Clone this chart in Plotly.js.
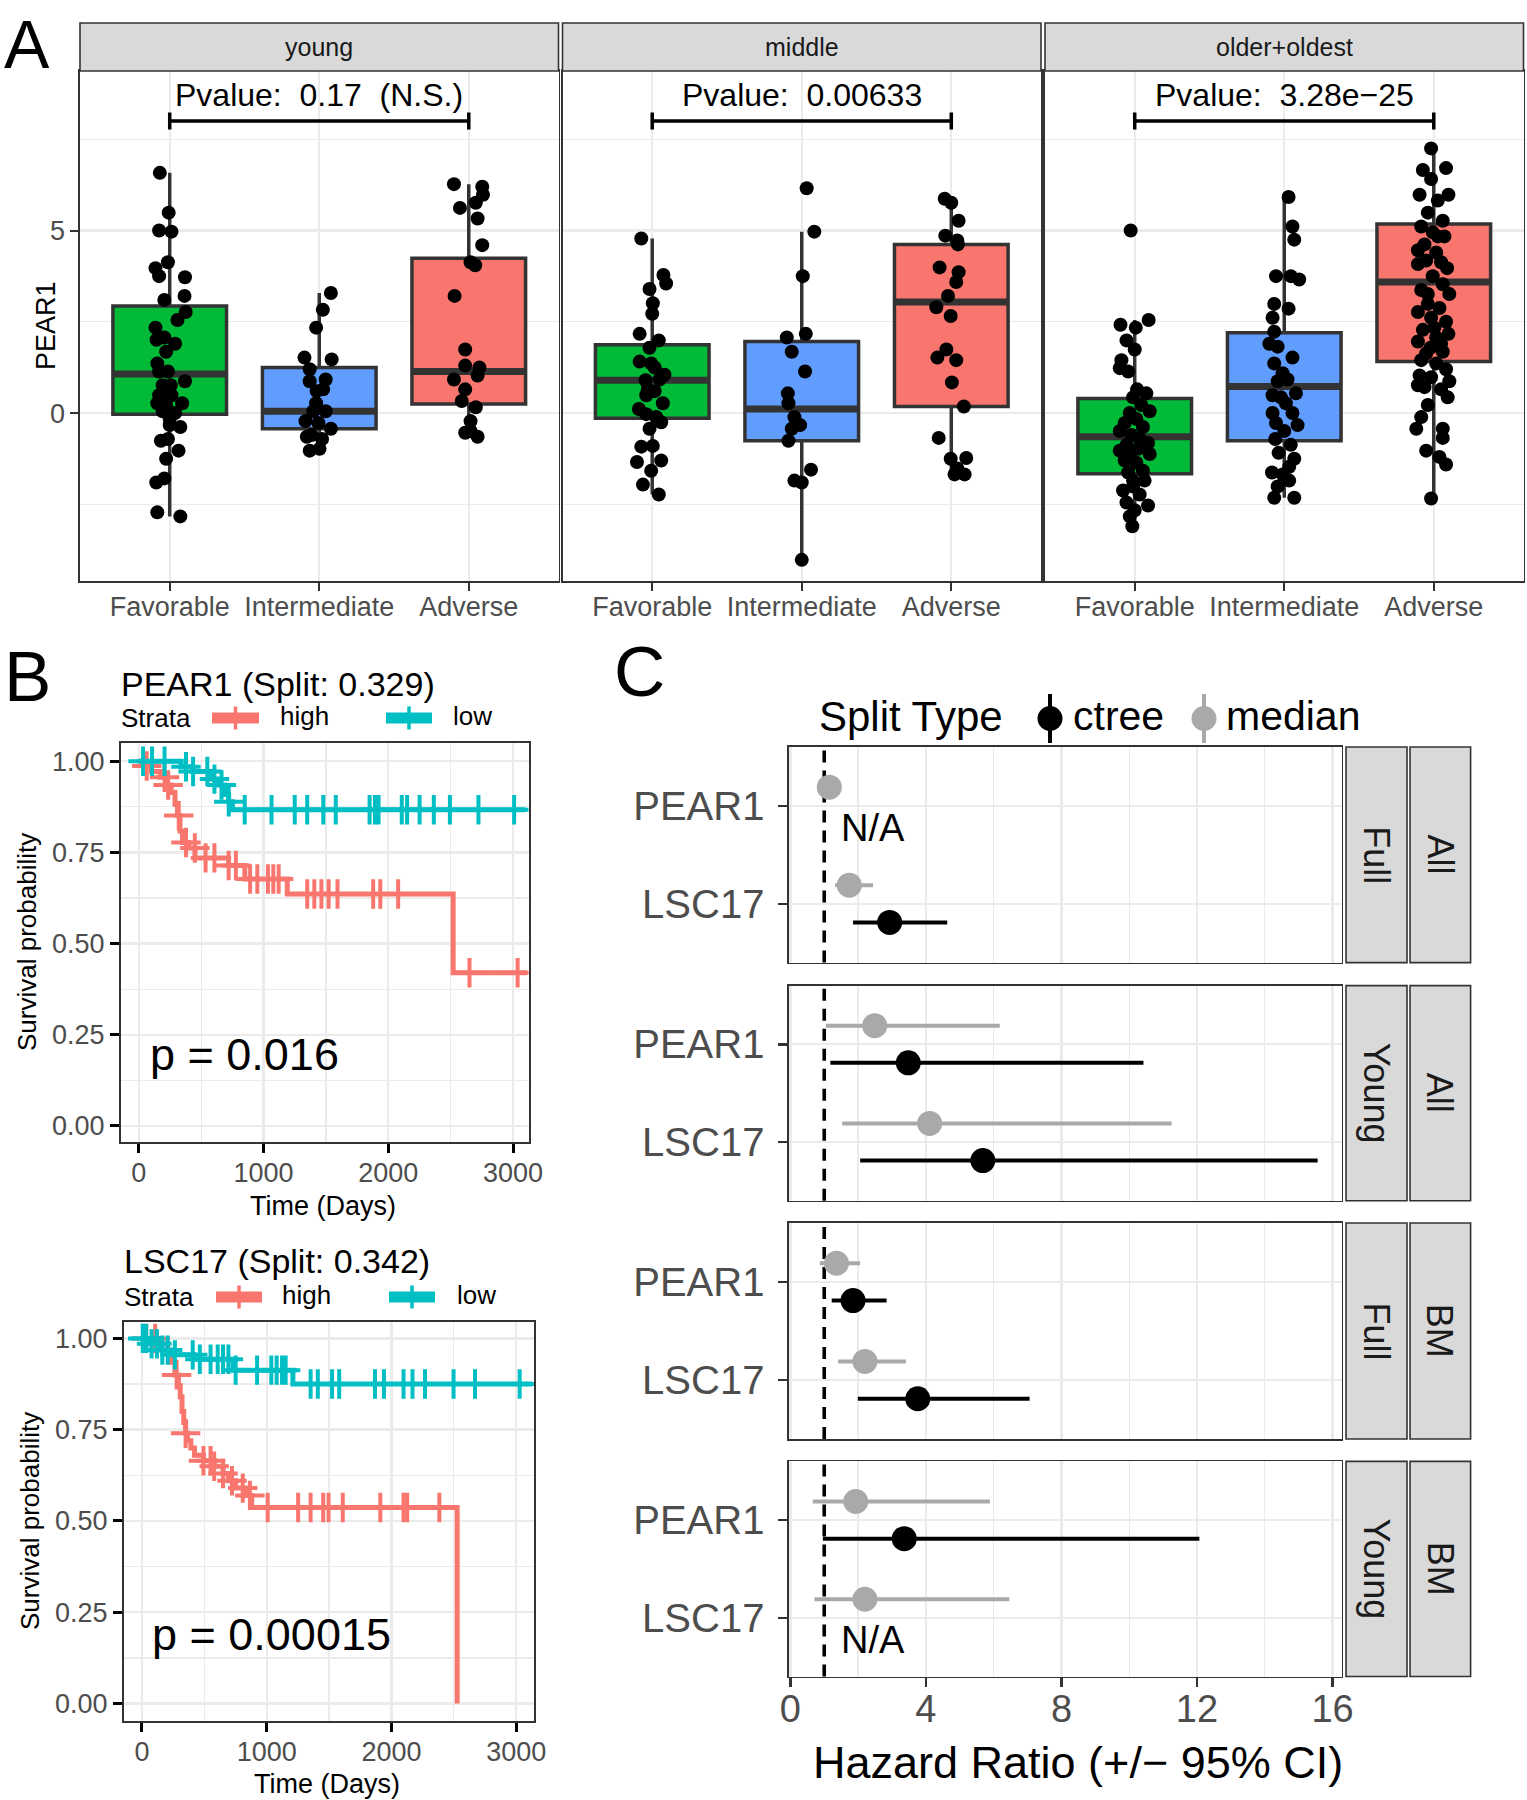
<!DOCTYPE html>
<html>
<head>
<meta charset="utf-8">
<script src="https://cdn.plot.ly/plotly-3.0.1.min.js"></script>
<style>
  html, body { margin: 0; padding: 0; background: #fff; }
  #chart { width: 1527px; height: 1800px; }
</style>
</head>
<body>
<div id="chart"></div>
<script>
// ---- Panel A: PEAR1 expression by risk group, faceted by age ----
const riskGroups = ['Favorable', 'Intermediate', 'Adverse'];
const ageFacets = ['young', 'middle', 'older+oldest'];
const facetPvalues = ['Pvalue:\u00a0 0.17\u00a0 (N.S.)', 'Pvalue:\u00a0 0.00633', 'Pvalue:\u00a0 3.28e\u221225'];

// box stats per facet (rows) and risk group (columns)
const boxQ1 = [[-0.03, -0.43, 0.25], [-0.14, -0.76, 0.18], [-1.66, -0.76, 1.41]];
const boxMed = [[1.07, 0.05, 1.14], [0.90, 0.11, 3.04], [-0.65, 0.73, 3.59]];
const boxQ3 = [[2.93, 1.25, 4.24], [1.87, 1.96, 4.62], [0.40, 2.20, 5.18]];
const boxLow = [[-2.83, -1.00, -0.65], [-2.23, -4.02, -1.68], [-3.10, -2.32, -2.34]];
const boxHigh = [[6.58, 3.29, 6.27], [4.78, 4.97, 5.87], [2.55, 5.92, 7.25]];

// jittered samples: [x jitter, PEAR1]
const youngFav = [[-0.066,6.58],[-0.007,5.49],[-0.071,5.0],[0.012,4.97],[-0.095,3.97],[-0.012,4.13],[-0.071,3.75],[0.102,3.72],[-0.036,3.10],[0.099,3.21],[0.107,2.77],[0.052,2.55],[-0.095,2.34],[-0.088,2.01],[-0.036,2.07],[0.036,1.90],[-0.024,1.68],[-0.083,1.36],[-0.071,1.14],[0.007,0.76],[0.102,0.87],[-0.047,0.76],[-0.083,0.27],[-0.024,0.22],[0.083,0.27],[0.036,0.0],[-0.047,0.05],[0.071,-0.38],[0.0,-0.33],[-0.059,-0.76],[-0.012,-0.71],[0.059,-1.03],[-0.024,-1.25],[-0.036,-1.79],[-0.090,-1.90],[-0.083,-2.72],[0.071,-2.83],[0.0,-0.16],[-0.071,0.49],[0.012,0.49],[-0.012,1.14]];
const youngInt = [[0.078,3.29],[0.024,2.83],[-0.021,2.34],[-0.099,1.52],[0.083,1.47],[-0.064,1.20],[0.043,0.92],[-0.064,0.87],[-0.017,0.60],[0.026,0.65],[-0.040,0.05],[0.043,0.05],[-0.092,-0.22],[-0.005,-0.27],[0.078,-0.43],[-0.052,-0.60],[0.019,-0.71],[-0.083,-0.65],[-0.064,-1.03],[0.002,-0.98],[-0.021,0.27]];
const youngAdv = [[-0.099,6.27],[0.090,6.20],[0.095,5.98],[-0.059,5.62],[0.047,5.76],[0.059,5.33],[0.090,4.60],[0.012,4.13],[0.043,4.05],[-0.095,3.21],[-0.024,1.74],[-0.024,1.30],[0.071,1.25],[0.059,1.03],[-0.099,0.92],[-0.024,0.65],[-0.047,0.33],[0.047,0.16],[0.012,-0.22],[0.012,-0.49],[0.059,-0.65],[-0.024,-0.54]];
const middleFav = [[-0.073,4.78],[0.075,3.78],[0.093,3.55],[-0.018,3.40],[0.004,3.01],[0.0,2.72],[-0.084,2.17],[0.044,1.99],[-0.018,1.79],[-0.084,1.41],[-0.007,1.36],[0.082,1.05],[-0.044,0.90],[0.049,0.92],[-0.029,0.65],[0.016,0.60],[0.071,0.27],[-0.089,0.11],[-0.040,-0.03],[0.027,-0.11],[0.060,-0.25],[-0.018,-0.43],[-0.073,-0.92],[0.004,-0.90],[0.060,-1.30],[-0.102,-1.34],[-0.007,-1.58],[-0.062,-1.96],[0.044,-2.23],[-0.040,0.49],[0.016,1.25]];
const middleInt = [[0.033,6.16],[0.084,4.97],[0.007,3.75],[0.027,2.17],[-0.100,2.07],[-0.067,1.68],[0.022,1.14],[-0.093,0.54],[-0.089,0.27],[-0.049,-0.11],[-0.067,-0.43],[-0.011,-0.33],[-0.089,-0.76],[0.062,-1.55],[-0.049,-1.85],[0.0,-1.90],[0.0,-4.02]];
const middleAdv = [[-0.044,5.87],[0.0,5.76],[0.049,5.27],[-0.040,4.86],[0.040,4.73],[0.044,4.62],[-0.078,3.99],[0.049,3.86],[0.033,3.59],[-0.022,3.21],[-0.100,2.90],[-0.004,2.66],[-0.033,1.74],[-0.093,1.52],[0.033,1.45],[0.004,0.84],[0.084,0.18],[-0.084,-0.68],[-0.004,-1.25],[0.100,-1.23],[0.022,-1.68],[0.089,-1.68],[0.040,-1.52]];
const olderFav = [[-0.027,5.0],[-0.095,2.42],[0.093,2.55],[0.007,2.34],[-0.055,1.99],[0.0,1.74],[-0.089,1.45],[-0.100,1.23],[-0.044,1.14],[0.016,0.65],[0.078,0.54],[-0.011,0.43],[0.044,0.22],[0.100,0.05],[-0.033,0.0],[-0.067,-0.27],[-0.100,-0.49],[0.055,-0.38],[-0.022,-0.60],[0.089,-0.82],[-0.055,-0.87],[0.022,-0.98],[-0.033,-1.14],[0.100,-1.12],[-0.067,-1.30],[0.011,-1.36],[0.055,-1.58],[-0.044,-1.63],[-0.011,-1.85],[0.066,-1.85],[-0.078,-2.12],[0.033,-2.23],[-0.055,-2.45],[0.089,-2.53],[0.0,-2.66],[-0.033,-2.83],[-0.016,-3.10],[0.011,-0.16],[0.033,-0.71],[-0.011,-2.01],[-0.100,-1.03]];
const olderInt = [[0.029,5.92],[0.055,5.11],[0.067,4.75],[-0.055,3.75],[0.044,3.75],[0.100,3.66],[-0.067,2.99],[0.029,2.86],[-0.078,2.61],[-0.067,2.23],[-0.100,1.90],[-0.044,1.82],[0.055,1.52],[-0.067,1.36],[-0.011,1.09],[0.022,0.92],[-0.044,0.87],[0.078,0.54],[-0.022,0.43],[-0.078,0.0],[0.055,0.0],[-0.055,-0.27],[0.089,-0.33],[0.0,-0.49],[-0.060,-0.71],[0.044,-0.87],[-0.038,-1.09],[0.067,-1.25],[-0.082,-1.63],[-0.011,-1.68],[0.033,-1.85],[-0.044,-2.01],[-0.067,-2.32],[0.067,-2.32],[0.011,0.27],[-0.078,0.49],[0.033,-1.47]];
const olderAdv = [[-0.018,7.25],[-0.073,6.66],[0.082,6.71],[-0.018,6.41],[-0.095,5.98],[0.098,5.98],[0.027,5.82],[-0.040,5.49],[0.060,5.27],[-0.084,5.11],[-0.007,4.95],[0.071,4.84],[-0.106,4.46],[0.016,4.40],[-0.051,4.18],[0.089,3.97],[-0.106,4.08],[-0.007,3.75],[0.060,3.53],[-0.084,3.37],[0.104,3.26],[-0.040,2.99],[0.038,2.88],[-0.106,2.77],[-0.018,2.61],[0.082,2.50],[-0.073,2.28],[0.098,2.17],[0.016,2.07],[-0.106,1.96],[-0.022,1.79],[0.060,1.68],[-0.084,1.45],[0.016,1.36],[0.082,1.20],[-0.095,1.03],[-0.018,0.98],[0.104,0.87],[-0.062,0.71],[0.049,0.65],[-0.106,0.76],[0.093,0.43],[-0.040,0.22],[-0.084,-0.11],[-0.117,-0.43],[0.060,-0.43],[0.060,-0.68],[-0.051,-1.03],[0.038,-1.20],[0.082,-1.41],[-0.018,-2.34],[0.027,4.84],[-0.062,4.62],[0.049,4.13],[-0.040,3.26],[0.004,2.34],[0.049,1.90],[-0.051,1.63]];

// ---- Panel B: Kaplan-Meier curves (time in days, survival probability) ----
const pear1HighTime = [0, 40, 100, 170, 220, 260, 290, 310, 330, 350, 400, 450, 720, 850, 1190, 2520];
const pear1HighSurv = [1, 0.987, 0.972, 0.956, 0.935, 0.914, 0.882, 0.851, 0.809, 0.777, 0.762, 0.735, 0.714, 0.677, 0.636, 0.42];
const pear1HighEnd = 3110;
const pear1HighCensor = [63, 206, 235, 320, 378, 449, 535, 606, 720, 778, 892, 950, 1035, 1078, 1121, 1350, 1407, 1464, 1522, 1593, 1879, 1936, 2079, 2651, 3037];
const pear1LowTime = [0, 340, 430, 580, 640, 690, 720, 750];
const pear1LowSurv = [1, 0.985, 0.972, 0.951, 0.935, 0.909, 0.889, 0.867];
const pear1LowEnd = 3100;
const pear1LowCensor = [34, 106, 206, 378, 435, 549, 606, 663, 721, 849, 1064, 1250, 1350, 1479, 1579, 1850, 1893, 1922, 2108, 2151, 2251, 2365, 2494, 2723, 3009];

const lsc17HighTime = [0, 150, 206, 235, 264, 292, 307, 321, 335, 350, 364, 392, 421, 493, 579, 650, 693, 751, 837, 880, 2527];
const lsc17HighSurv = [1, 0.985, 0.96, 0.935, 0.90, 0.87, 0.84, 0.80, 0.77, 0.74, 0.72, 0.70, 0.68, 0.665, 0.65, 0.63, 0.61, 0.59, 0.57, 0.537, 0];
const lsc17HighEnd = 2527;
const lsc17HighCensor = [34, 106, 278, 350, 493, 550, 579, 650, 722, 808, 865, 1008, 1252, 1352, 1453, 1496, 1610, 1911, 2097, 2126, 2384];
const lsc17LowTime = [0, 60, 135, 230, 420, 730, 1210];
const lsc17LowSurv = [1, 0.985, 0.968, 0.955, 0.943, 0.913, 0.875];
const lsc17LowEnd = 3128;
const lsc17LowCensor = [6, 34, 77, 120, 163, 206, 264, 407, 464, 550, 607, 650, 693, 751, 923, 1037, 1080, 1123, 1152, 1352, 1410, 1524, 1581, 1868, 1940, 2097, 2169, 2269, 2498, 2670, 3028];

// ---- Panel C: hazard ratios (+/- 95% CI) ----
const forestStrata = ['All', 'All', 'BM', 'BM'];
const forestCohort = ['Full', 'Young', 'Full', 'Young'];
const forestGenes = ['PEAR1', 'LSC17'];
const medianHR = [[1.15, 1.74], [2.49, 4.11], [1.36, 2.20], [1.93, 2.20]];
const medianLo = [[0.90, 1.32], [1.05, 1.53], [0.87, 1.41], [0.66, 0.71]];
const medianHi = [[1.40, 2.44], [6.18, 11.25], [2.06, 3.41], [5.89, 6.46]];
const ctreeHR = [[null, 2.93], [3.48, 5.68], [1.85, 3.76], [3.36, null]];
const ctreeLo = [[null, 1.85], [1.18, 2.06], [1.22, 1.99], [0.96, null]];
const ctreeHi = [[null, 4.63], [10.42, 15.56], [2.84, 7.06], [12.07, null]];

// ---------------------------------------------------------------
const W = 1527, H = 1800;
const CF = 'Liberation Sans, Arial, Helvetica, sans-serif';
const px = x => x / W;
const py = y => 1 - y / H;
const domX = (a, b) => [px(a), px(b)];
const domY = (top, bottom) => [py(bottom), py(top)];

function axisStyle(o) {
  return Object.assign({
    showline: true, mirror: true, linecolor: '#333333', linewidth: 1.6,
    ticks: 'outside', ticklen: 8, tickwidth: 2, tickcolor: '#333333',
    showgrid: true, gridcolor: '#ebebeb', gridwidth: 2.4,
    zeroline: false, fixedrange: true,
    tickfont: { family: CF, size: 27, color: '#4d4d4d' }
  }, o);
}
function minorGrid(vals) {
  return { tickvals: vals, showgrid: true, gridcolor: '#ebebeb', gridwidth: 1.3, ticks: '' };
}
function label(x, y, text, size, extra) {
  return Object.assign({
    xref: 'paper', yref: 'paper', x: px(x), y: py(y), text: text, showarrow: false,
    xanchor: 'center', yanchor: 'middle', font: { family: CF, size: size, color: '#000' }
  }, extra || {});
}

const traces = [];
const annotations = [];
const shapes = [];
const layout = {
  width: W, height: H, margin: { l: 0, r: 0, t: 0, b: 0 },
  paper_bgcolor: '#fff', plot_bgcolor: '#fff', showlegend: false,
  boxmode: 'overlay', annotations, shapes
};

// ---- Panel A ----
const groupColors = ['#00BA38', '#619CFF', '#F8766D'];
const facetPoints = [[youngFav, youngInt, youngAdv], [middleFav, middleInt, middleAdv], [olderFav, olderInt, olderAdv]];
const panelAX = [[80, 558.5], [562.5, 1041], [1045, 1523.5]];
const stripA = [23, 71], plotABottom = 581;

ageFacets.forEach((facet, i) => {
  const n = i + 1;
  const xa = n === 1 ? 'x' : 'x' + n, ya = n === 1 ? 'y' : 'y' + n;
  layout[n === 1 ? 'xaxis' : 'xaxis' + n] = axisStyle({
    domain: domX(panelAX[i][0], panelAX[i][1]), anchor: ya,
    range: [0.4, 3.6], tickvals: [1, 2, 3], ticktext: riskGroups, ticklabelstandoff: -7
  });
  layout[n === 1 ? 'yaxis' : 'yaxis' + n] = axisStyle({
    domain: domY(stripA[1], plotABottom), anchor: xa,
    range: [-4.6, 9.37], tickvals: [0, 5], minor: minorGrid([-2.5, 2.5, 7.5]),
    showticklabels: i === 0, ticks: i === 0 ? 'outside' : ''
  });

  riskGroups.forEach((g, j) => {
    traces.push({
      type: 'box', x: [j + 1], q1: [boxQ1[i][j]], median: [boxMed[i][j]], q3: [boxQ3[i][j]],
      lowerfence: [boxLow[i][j]], upperfence: [boxHigh[i][j]], width: 0.76,
      fillcolor: groupColors[j], line: { color: '#333333', width: 3.5 }, whiskerwidth: 0,
      boxpoints: false, xaxis: xa, yaxis: ya, hoverinfo: 'skip'
    });
    traces.push({
      type: 'scatter', mode: 'lines', x: [j + 1 - 0.38, j + 1 + 0.38], y: [boxMed[i][j], boxMed[i][j]],
      line: { color: '#333333', width: 7 }, xaxis: xa, yaxis: ya, hoverinfo: 'skip'
    });
  });
  riskGroups.forEach((g, j) => {
    const pts = facetPoints[i][j];
    traces.push({
      type: 'scatter', mode: 'markers', x: pts.map(p => j + 1 + p[0]), y: pts.map(p => p[1]),
      marker: { color: '#000', size: 14 }, xaxis: xa, yaxis: ya, hoverinfo: 'skip'
    });
  });
  // comparison bracket Favorable vs Adverse
  traces.push({
    type: 'scatter', mode: 'lines', x: [1, 1, null, 1, 3, null, 3, 3], y: [7.77, 8.23, null, 8, 8, null, 7.77, 8.23],
    line: { color: '#000', width: 3.5 }, xaxis: xa, yaxis: ya, hoverinfo: 'skip'
  });
  annotations.push({
    xref: xa, yref: ya, x: 2, y: 8.7, text: facetPvalues[i], showarrow: false,
    font: { family: CF, size: 32, color: '#000' }
  });
  shapes.push({
    type: 'rect', xref: 'paper', yref: 'paper', x0: px(panelAX[i][0]), x1: px(panelAX[i][1]),
    y0: py(stripA[1]), y1: py(stripA[0]), fillcolor: '#d9d9d9', line: { color: '#333333', width: 1.6 }
  });
  annotations.push(label((panelAX[i][0] + panelAX[i][1]) / 2, 47, facet, 25, { font: { family: CF, size: 25, color: '#1a1a1a' } }));
});
annotations.push(label(46, 326, 'PEAR1', 27, { textangle: -90 }));
annotations.push(label(2, 44, 'A', 68, { xanchor: 'left' }));

// ---- Panel B ----
function survAt(times, surv, t) {
  let s = surv[0];
  times.forEach((tt, k) => { if (tt <= t) s = surv[k]; });
  return s;
}
const kmColors = { high: '#F8766D', low: '#00BFC4' };
const kmPanels = [
  { n: 4, x: [121, 528.6], y: [743, 1142], xr: [-143, 3125], yr: [-0.044, 1.05],
    title: 'PEAR1 (Split: 0.329)', p: 'p = 0.016', pt: [75, 0.195],
    curves: [['high', pear1HighTime, pear1HighSurv, pear1HighEnd, pear1HighCensor],
             ['low', pear1LowTime, pear1LowSurv, pear1LowEnd, pear1LowCensor]],
    head: { title: 684, legend: 718, strata: 121, keys: [[212, 259, 280], [386, 432, 453]] },
    ylab: [27, 942], xlab: [323, 1206] },
  { n: 5, x: [124, 534], y: [1321.6, 1720.7], xr: [-144, 3143], yr: [-0.047, 1.046],
    title: 'LSC17 (Split: 0.342)', p: 'p = 0.00015', pt: [64, 0.19],
    curves: [['high', lsc17HighTime, lsc17HighSurv, lsc17HighEnd, lsc17HighCensor],
             ['low', lsc17LowTime, lsc17LowSurv, lsc17LowEnd, lsc17LowCensor]],
    head: { title: 1261, legend: 1297, strata: 124, keys: [[216, 262, 282], [389, 435, 457]] },
    ylab: [30, 1521], xlab: [327, 1784] }
];
kmPanels.forEach(k => {
  const xa = 'x' + k.n, ya = 'y' + k.n;
  const kmAxis = { linecolor: '#333333', linewidth: 2, tickcolor: '#000', tickwidth: 3, ticklen: 9 };
  layout['xaxis' + k.n] = axisStyle(Object.assign({
    domain: domX(k.x[0], k.x[1]), anchor: ya, range: k.xr, ticklabelstandoff: -3,
    tickvals: [0, 1000, 2000, 3000], minor: minorGrid([500, 1500, 2500])
  }, kmAxis));
  layout['yaxis' + k.n] = axisStyle(Object.assign({
    domain: domY(k.y[0], k.y[1]), anchor: xa, range: k.yr,
    tickvals: [0, 0.25, 0.5, 0.75, 1], ticktext: ['0.00', '0.25', '0.50', '0.75', '1.00'],
    minor: minorGrid([0.125, 0.375, 0.625, 0.875])
  }, kmAxis));
  k.curves.forEach(([name, t, s, end, cens]) => {
    traces.push({
      type: 'scatter', mode: 'lines', x: t.concat([end]), y: s.concat([s[s.length - 1]]),
      line: { color: kmColors[name], width: 5, shape: 'hv' }, xaxis: xa, yaxis: ya, hoverinfo: 'skip'
    });
    traces.push({
      type: 'scatter', mode: 'markers', x: cens, y: cens.map(c => survAt(t, s, c)),
      marker: { symbol: 'cross-thin', size: 21, line: { color: kmColors[name], width: 4 } },
      xaxis: xa, yaxis: ya, hoverinfo: 'skip'
    });
  });
  annotations.push({
    xref: xa, yref: ya, x: k.pt[0], y: k.pt[1], text: k.p, showarrow: false,
    xanchor: 'left', yanchor: 'middle', font: { family: CF, size: 45, color: '#000' }
  });
  annotations.push(label(k.head.strata - 2, k.head.title, k.title, 34, { xanchor: 'left' }));
  annotations.push(label(k.head.strata - 2, k.head.legend, 'Strata', 26, { xanchor: 'left' }));
  ['high', 'low'].forEach((name, q) => {
    const [a, b, tx] = k.head.keys[q];
    const yk = k.head.legend;
    shapes.push({ type: 'line', xref: 'paper', yref: 'paper', x0: px(a), x1: px(b), y0: py(yk), y1: py(yk),
      line: { color: kmColors[name], width: 11 } });
    shapes.push({ type: 'line', xref: 'paper', yref: 'paper', x0: px((a + b) / 2), x1: px((a + b) / 2),
      y0: py(yk - 11.5), y1: py(yk + 11.5), line: { color: kmColors[name], width: 3.5 } });
    annotations.push(label(tx - 2, yk - 2, name, 26, { xanchor: 'left' }));
  });
  annotations.push(label(k.ylab[0], k.ylab[1], 'Survival probability', 26, { textangle: -90 }));
  annotations.push(label(k.xlab[0], k.xlab[1], 'Time (Days)', 27));
});
annotations.push(label(2, 676, 'B', 71, { xanchor: 'left' }));

// ---- Panel C ----
const forestX = [789, 1341.7];
const forestY = [[747, 962.6], [985.6, 1200.7], [1223, 1439], [1461.4, 1676.5]];
const splitTypes = [
  ['median', medianHR, medianLo, medianHi, '#A9A9A9', 0.19],
  ['ctree', ctreeHR, ctreeLo, ctreeHi, '#000000', -0.19]
];
forestStrata.forEach((strat, p) => {
  const n = 6 + p;
  const xa = 'x' + n, ya = 'y' + n;
  const last = p === forestStrata.length - 1;
  layout['xaxis' + n] = axisStyle({
    domain: domX(forestX[0], forestX[1]), anchor: ya, range: [-0.04, 16.27],
    tickvals: [0, 4, 8, 12, 16], minor: minorGrid([2, 6, 10, 14]),
    showticklabels: last, ticks: last ? 'outside' : '', ticklen: 9, tickwidth: 2.5,
    ticklabelstandoff: -11, tickfont: { family: CF, size: 38, color: '#4d4d4d' }
  });
  layout['yaxis' + n] = axisStyle({
    domain: domY(forestY[p][0], forestY[p][1]), anchor: xa, range: [0.4, 2.6],
    tickvals: [1, 2], ticktext: forestGenes.slice().reverse(), ticklen: 9, tickwidth: 2.5,
    ticklabelstandoff: 6, tickfont: { family: CF, size: 40, color: '#4d4d4d' }
  });
  shapes.push({
    type: 'line', xref: xa, yref: 'paper', x0: 1, x1: 1,
    y0: py(forestY[p][1]), y1: py(forestY[p][0]), layer: 'below',
    line: { color: '#000', width: 3.6, dash: '12px,8px' }
  });
  splitTypes.forEach(([name, hr, lo, hi, col, off]) => {
    const xs = [], ys = [], up = [], dn = [];
    forestGenes.forEach((g, k) => {
      const pos = 2 - k;
      const v = hr[p][k];
      if (v === null) {
        annotations.push({
          xref: xa, yref: ya, x: 1.45, y: pos + off - 0.04, text: 'N/A', showarrow: false,
          xanchor: 'left', yanchor: 'middle', font: { family: CF, size: 38, color: '#000' }
        });
        return;
      }
      xs.push(v); ys.push(pos + off); up.push(hi[p][k] - v); dn.push(v - lo[p][k]);
    });
    traces.push({
      type: 'scatter', mode: 'markers', x: xs, y: ys, xaxis: xa, yaxis: ya, hoverinfo: 'skip',
      marker: { color: col, size: 25 },
      error_x: { type: 'data', symmetric: false, array: up, arrayminus: dn, width: 0, thickness: 4, color: col }
    });
  });
  // facet strips: cohort (inner) and strata (outer)
  [[1346, 1407, forestCohort[p]], [1410, 1470.6, strat]].forEach(([a, b, txt]) => {
    shapes.push({
      type: 'rect', xref: 'paper', yref: 'paper', x0: px(a), x1: px(b),
      y0: py(forestY[p][1]), y1: py(forestY[p][0]), fillcolor: '#d9d9d9', line: { color: '#333333', width: 1.6 }
    });
    annotations.push(label((a + b) / 2, (forestY[p][0] + forestY[p][1]) / 2, txt, 36,
      { textangle: 90, font: { family: CF, size: 36, color: '#1a1a1a' } }));
  });
});
annotations.push(label(1078, 1762, 'Hazard Ratio (+/\u2212 95% CI)', 45));
annotations.push(label(612, 671, 'C', 71, { xanchor: 'left' }));

// Split Type legend
annotations.push(label(817, 716, 'Split Type', 42, { xanchor: 'left' }));
[[1050, '#000000', 1071, 'ctree'], [1204, '#A9A9A9', 1224, 'median']].forEach(([cx, col, tx, txt]) => {
  shapes.push({ type: 'line', xref: 'paper', yref: 'paper', x0: px(cx), x1: px(cx), y0: py(694), y1: py(743),
    line: { color: col, width: 4 } });
  shapes.push({ type: 'circle', xref: 'paper', yref: 'paper', x0: px(cx - 12.5), x1: px(cx + 12.5),
    y0: py(731), y1: py(706), fillcolor: col, line: { color: col, width: 0 } });
  annotations.push(label(tx, 716, txt, 41, { xanchor: 'left' }));
});

Plotly.newPlot('chart', traces, layout, { displayModeBar: false, staticPlot: true });
</script>
</body>
</html>
